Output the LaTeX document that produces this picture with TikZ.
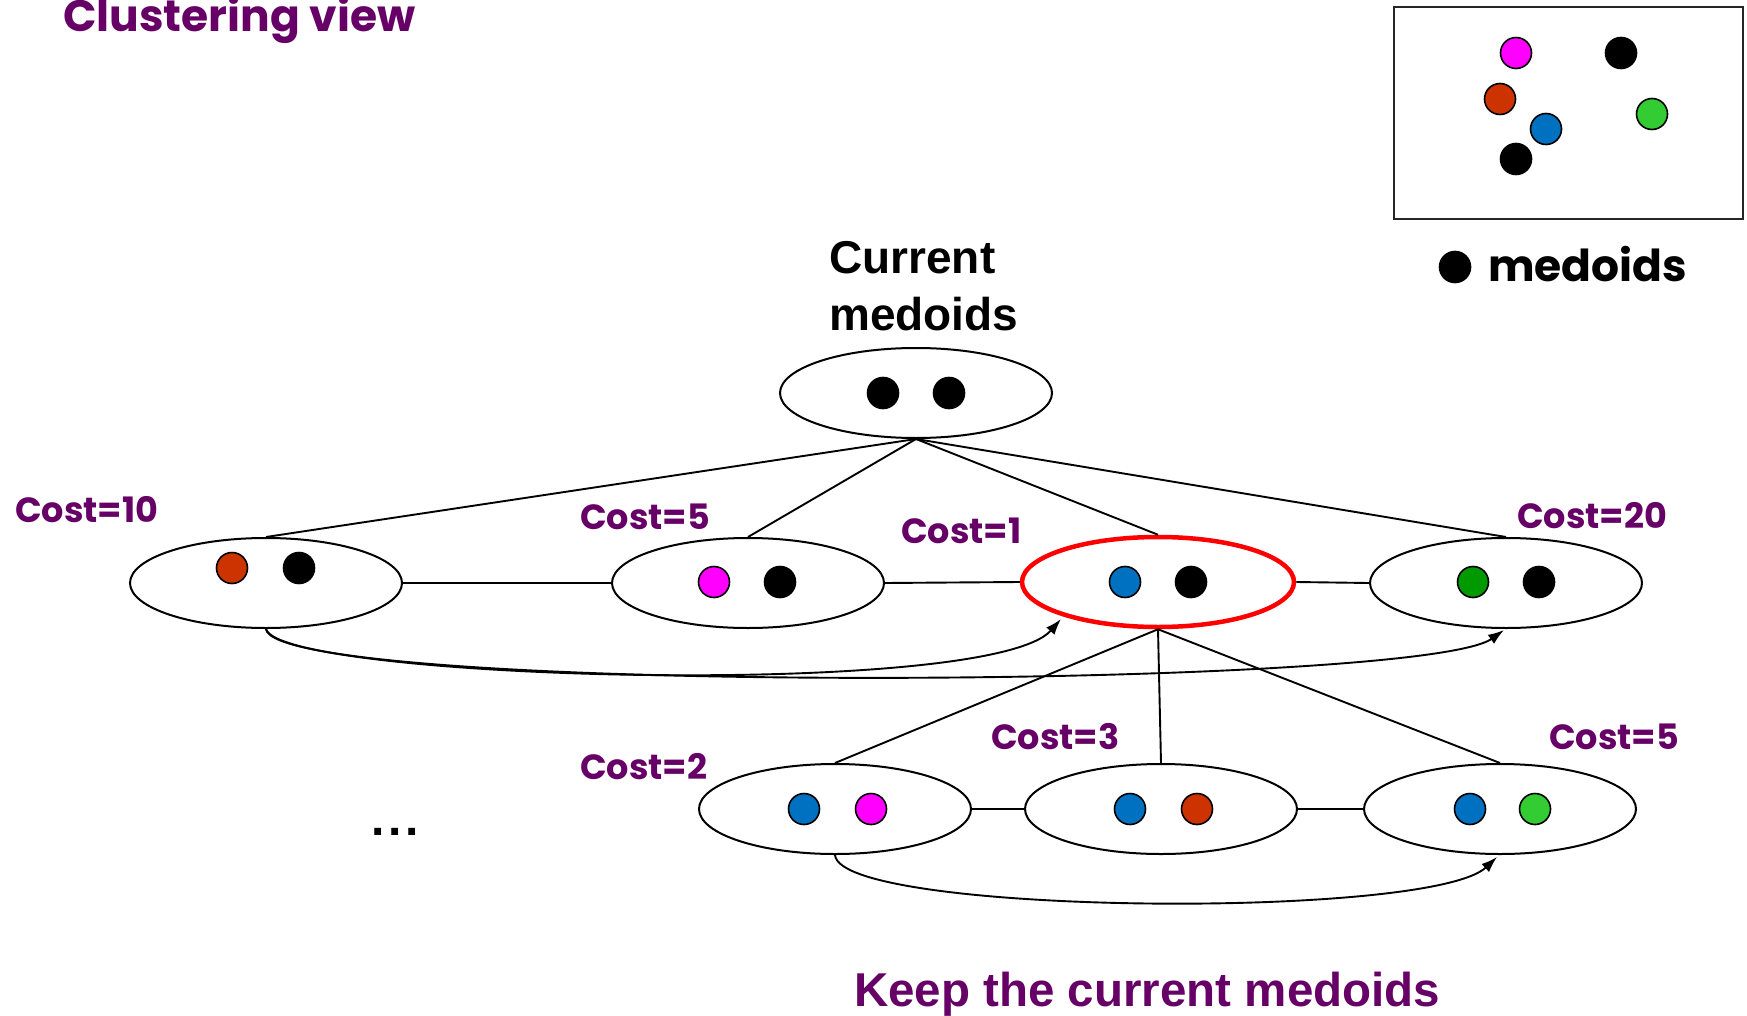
\documentclass[tikz,border=0pt]{standalone}
\usepackage{fontspec}
\setmainfont{Liberation Sans}
\newfontfamily\gothic{Poppins}
\usetikzlibrary{shapes.geometric,arrows.meta}
\definecolor{plum}{HTML}{660066}
\definecolor{dmagenta}{HTML}{FF00FF}
\definecolor{dorange}{HTML}{CC3300}
\definecolor{dblue}{HTML}{0070C0}
\definecolor{dgreen}{HTML}{009900}
\definecolor{lgreen}{HTML}{33CC33}
\tikzset{
  setnode/.style={ellipse, draw, line width=2pt, fill=white,
    minimum width=272pt, minimum height=90pt, inner sep=0pt},
  bestnode/.style={setnode, draw=red, line width=4.5pt},
  dot/.style={circle, draw=black, line width=1.6pt, fill=#1,
    minimum size=31pt, inner sep=0pt},
  link/.style={draw, line width=1.9pt},
  swap/.style={draw, line width=1.9pt, -{Latex[length=16pt,width=11pt]}},
  cost/.style={anchor=base west, inner sep=0pt, text=plum,
    font=\gothic\bfseries\fontsize{35}{40}\selectfont},
  title/.style={anchor=base west, inner sep=0pt, text=plum,
    font=\gothic\bfseries\fontsize{44}{50}\selectfont},
  heading/.style={anchor=base west, inner sep=0pt,
    font=\bfseries\fontsize{46}{54}\selectfont}
}
\begin{document}
\begin{tikzpicture}[x=1pt, y=-1pt]
\useasboundingbox (0,0) rectangle (1747,1016);

% title and legend
\node[title] (ttl) at (63,32) {Clustering view};
\draw[line width=2pt, draw=black!85] (1394,7) rectangle (1743,219);
\node[dot=dmagenta] (lp1) at (1516,53) {};
\node[dot=black]    (lp2) at (1621,53) {};
\node[dot=dorange]  (lp3) at (1500,99) {};
\node[dot=lgreen]   (lp4) at (1652,114) {};
\node[dot=dblue]    (lp5) at (1546,129) {};
\node[dot=black]    (lp6) at (1516,159) {};
\node[dot=black]    (ldot) at (1455,267) {};
\node[anchor=base west, inner sep=0pt, font=\gothic\bfseries\fontsize{44}{50}\selectfont] (ltxt) at (1488,281) {medoids};

% current medoids
\node[heading] (cur1) at (829,273) {Current};
\node[heading] (cur2) at (829,330) {medoids};

% set positions
\coordinate (pT) at (916,393);
\coordinate (p1) at (266,583);
\coordinate (p2) at (748,583);
\coordinate (p3) at (1158,582);
\coordinate (p4) at (1506,583);
\coordinate (q1) at (835,809);
\coordinate (q2) at (1161,809);
\coordinate (q3) at (1500,809);

\node[setnode] (T) at (pT) {};
\node[setnode] (E1) at (p1) {};
\node[setnode] (E2) at (p2) {};
\node[bestnode] (E3) at (p3) {};
\node[setnode] (E4) at (p4) {};
\node[setnode] (F1) at (q1) {};
\node[setnode] (F2) at (q2) {};
\node[setnode] (F3) at (q3) {};

% neighbour links
\draw[link] (T.south) -- (E1.north);
\draw[link] (T.south) -- (E2.north);
\draw[link] (T.south) -- (E3.north);
\draw[link] (T.south) -- (E4.north);
\draw[link] (E1.east) -- (E2.west);
\draw[link] (E2.east) -- (E3.west);
\draw[link] (E3.east) -- (E4.west);
\draw[link] (E3.south) -- (F1.north);
\draw[link] (E3.south) -- (F2.north);
\draw[link] (E3.south) -- (F3.north);
\draw[link] (F1.east) -- (F2.west);
\draw[link] (F2.east) -- (F3.west);

% swap arrows
\coordinate (tipA) at (1061,619);
\coordinate (tipB) at (1504,630);
\coordinate (tipC) at (1497,857);
\draw[swap] (E1.south) .. controls (280,680) and (990,700) .. (tipA);
\draw[swap] (E1.south) .. controls (275,695) and (1420,690) .. (tipB);
\draw[swap] (F1.south) .. controls (840,915) and (1430,920) .. (tipC);

% medoid dots
\node[dot=black] (t1) at (883,393) {};
\node[dot=black] (t2) at (949,393) {};
\node[dot=dorange]  (a1) at (232,568) {};
\node[dot=black]    (a2) at (299,568) {};
\node[dot=dmagenta] (b1) at (714,582) {};
\node[dot=black]    (b2) at (780,582) {};
\node[dot=dblue]    (c1) at (1125,582) {};
\node[dot=black]    (c2) at (1191,582) {};
\node[dot=dgreen]   (d1) at (1473,582) {};
\node[dot=black]    (d2) at (1539,582) {};
\node[dot=dblue]    (f1) at (804,809) {};
\node[dot=dmagenta] (f2) at (871,809) {};
\node[dot=dblue]    (g1) at (1130,809) {};
\node[dot=dorange]  (g2) at (1197,809) {};
\node[dot=dblue]    (h1) at (1470,809) {};
\node[dot=lgreen]   (h2) at (1535,809) {};

% costs
\node[cost] (k1) at (15,522) {Cost=10};
\node[cost] (k2) at (580,529) {Cost=5};
\node[cost] (k3) at (901,543) {Cost=1};
\node[cost] (k4) at (1517,528) {Cost=20};
\node[cost] (k5) at (580,779) {Cost=2};
\node[cost] (k6) at (991,749) {Cost=3};
\node[cost] (k7) at (1549,749) {Cost=5};

\node[anchor=base west, inner sep=0pt, font=\bfseries\fontsize{48}{50}\selectfont] (dots) at (371,835) {.\kern4pt.\kern4pt.};

\node[heading, text=plum, font=\bfseries\fontsize{47.5}{54}\selectfont] (keep) at (854,1006) {Keep the current medoids};
\end{tikzpicture}
\end{document}
